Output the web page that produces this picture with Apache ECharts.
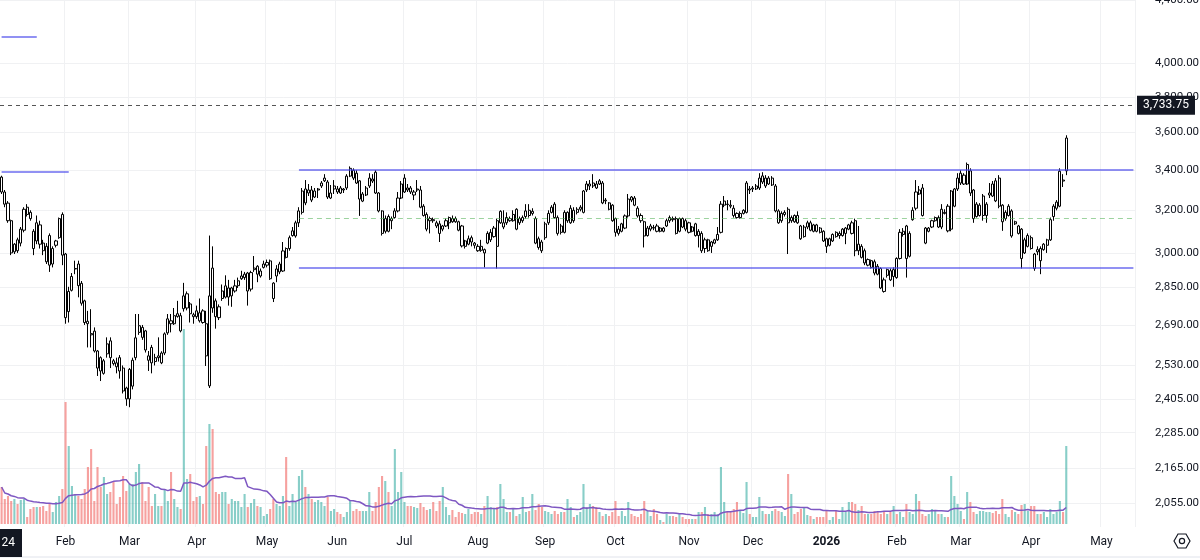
<!DOCTYPE html>
<html>
<head>
<meta charset="utf-8">
<script src="https://cdn.jsdelivr.net/npm/echarts@6/dist/echarts.min.js"></script>
<style>
html, body { margin: 0; padding: 0; background: #fff; }
#chart { width: 1200px; height: 560px; }
</style>
</head>
<body>
<div id="chart"></div>
<script>
// one bar per weekday, first bar on firstDay
var firstDay = '2025-01-06';
var dayCount = 355;   // weekdays on the time scale, incl. empty space on the right

// [open, high, low, close]
var ohlc = [
  [3365,3372,3280,3290],[3290,3300,3215,3230],[3235,3245,3140,3150],[3150,3155,2990,3000],[3005,3045,2995,3040],
  [3060,3070,3000,3010],[3110,3120,3030,3045],[3105,3215,3095,3205],[3215,3230,3170,3180],[3190,3200,3150,3160],
  [3100,3110,2990,3020],[3140,3175,3040,3055],[3130,3150,3020,3040],[3045,3060,2990,3010],[3030,3045,2950,2960],
  [3080,3090,2915,2945],[3020,3030,2935,2950],[3035,3060,3025,3055],[3070,3165,3065,3160],[3180,3190,2945,2990],
  [2995,3000,2695,2720],[2830,2850,2700,2745],[2835,2910,2830,2895],[2930,2965,2905,2928],[2950,2965,2805,2855],
  [2865,2875,2770,2780],[2790,2795,2690,2700],[2705,2748,2600,2695],[2655,2755,2600,2650],[2665,2680,2580,2586],
  [2586,2590,2490,2520],[2560,2565,2471,2509],[2500,2555,2495,2548],[2614,2640,2560,2575],[2626,2640,2520,2560],
  [2548,2555,2530,2537],[2540,2560,2500,2525],[2560,2570,2480,2509],[2520,2530,2425,2434],[2445,2450,2380,2405],
  [2405,2520,2375,2515],[2452,2560,2440,2550],
  [2560,2735,2550,2638],[2660,2735,2650,2687],[2680,2690,2630,2640],[2666,2670,2580,2590],[2550,2586,2509,2567],
  [2600,2610,2500,2540],[2545,2575,2530,2560],[2560,2640,2545,2567],[2578,2585,2535,2540],[2578,2660,2570,2654],
  [2658,2735,2650,2715],[2707,2735,2660,2695],[2695,2760,2690,2728],[2725,2790,2720,2736],[2728,2740,2660,2666],
  [2811,2867,2745,2757],[2820,2830,2750,2760],[2777,2785,2700,2736],[2724,2740,2695,2732],[2748,2770,2715,2724],
  [2707,2800,2700,2740],[2748,2755,2695,2700],[2695,2748,2528,2567],[2453,3080,2445,2811],[2932,3030,2740,2760],
  [2790,2800,2675,2724],[2765,2775,2710,2720],[2800,2860,2790,2832],[2806,2900,2800,2854],[2845,2880,2770,2806],
  [2811,2850,2765,2845],[2832,2880,2825,2854],[2855,2890,2845,2876],[2885,2920,2880,2897],[2890,2915,2880,2905],
  [2910,2915,2770,2832],[2912,2920,2830,2840],[2925,2986,2915,2932],[2940,2945,2870,2905],[2897,2930,2890,2919],
  [2935,2965,2930,2950],[2945,2970,2935,2957],
  [2964,2970,2880,2885],[2866,2870,2785,2800],[2928,2945,2870,2897],[2915,2960,2905,2950],[2919,3050,2915,3009],
  [3020,3025,2975,2980],[3020,3080,3010,3070],[3080,3120,3075,3102],[3078,3150,3070,3140],[3140,3215,3120,3197],
  [3190,3310,3180,3295],[3305,3350,3225,3236],[3285,3330,3270,3300],[3300,3320,3240,3250],[3295,3310,3260,3265],
  [3300,3310,3260,3305],[3320,3345,3310,3335],[3346,3380,3340,3360],[3340,3350,3255,3265],[3260,3325,3255,3285],
  [3320,3350,3280,3305],[3305,3320,3280,3290],[3310,3320,3280,3285],[3300,3310,3285,3305],[3310,3380,3300,3370],
  [3410,3420,3365,3370],[3400,3410,3350,3360],[3385,3400,3330,3335],[3346,3350,3173,3255],[3245,3290,3240,3280],
  [3275,3320,3270,3310],[3320,3385,3310,3360],[3345,3380,3335,3355],[3390,3400,3280,3285],[3285,3290,3190,3197],
  [3197,3200,3080,3090],[3100,3175,3090,3160],[3170,3180,3095,3100],[3150,3170,3110,3160],[3165,3210,3160,3197],
  [3197,3290,3190,3260],[3260,3345,3255,3330],
  [3290,3380,3285,3360],[3300,3330,3290,3310],[3310,3320,3280,3290],[3275,3300,3250,3290],[3300,3350,3290,3305],
  [3300,3320,3210,3215],[3220,3230,3170,3175],[3180,3190,3100,3110],[3150,3170,3090,3160],[3150,3165,3140,3155],
  [3140,3150,3115,3125],[3135,3150,3050,3090],[3110,3130,3100,3125],[3125,3160,3120,3150],[3140,3170,3110,3165],
  [3145,3175,3140,3160],[3160,3170,3140,3145],[3145,3150,3100,3105],[3125,3130,3025,3032],[3030,3060,3020,3055],
  [3040,3080,3035,3065],[3070,3080,3030,3050],[3035,3050,3020,3045],[3030,3040,3005,3010],[3012,3060,3005,3030],
  [3015,3020,2935,3000],[3045,3100,3040,3090],[3060,3110,3050,3095],[3075,3125,3070,3115],[3150,3160,2930,3030],
  [3195,3200,3135,3140],[3120,3200,3110,3140],[3140,3190,3130,3165],[3150,3170,3145,3160],[3150,3200,3145,3180],
  [3205,3210,3105,3110],[3140,3170,3130,3160],[3150,3175,3140,3165],[3170,3230,3160,3197],[3200,3230,3165,3175],
  [3185,3210,3175,3195],[3160,3170,3040,3045],
  [3065,3075,3015,3025],[3050,3060,3000,3010],[3135,3145,3060,3070],[3185,3200,3130,3140],[3190,3225,3185,3215],
  [3230,3240,3160,3165],[3165,3175,3080,3090],[3095,3135,3085,3125],[3190,3200,3090,3095],[3150,3195,3140,3190],
  [3140,3225,3135,3210],[3200,3215,3140,3150],[3190,3215,3180,3205],[3205,3225,3195,3215],[3190,3300,3185,3295],
  [3300,3345,3290,3330],[3320,3350,3300,3330],[3335,3380,3310,3320],[3330,3345,3305,3310],[3346,3355,3325,3330],
  [3335,3345,3230,3236],[3250,3260,3230,3246],[3236,3240,3200,3205],[3225,3230,3145,3150],[3160,3165,3075,3095],
  [3110,3125,3080,3090],[3100,3140,3095,3135],[3115,3180,3110,3173],[3173,3280,3165,3255],[3265,3270,3240,3250],
  [3260,3270,3220,3225],[3210,3220,3165,3173],[3175,3185,3140,3150],[3145,3150,3025,3078],[3080,3125,3075,3115],
  [3110,3135,3100,3125],[3115,3130,3105,3118],[3125,3135,3095,3100],[3100,3120,3095,3115],[3115,3120,3095,3100],
  [3125,3160,3120,3150],[3150,3175,3140,3165],
  [3160,3170,3145,3155],[3160,3170,3085,3090],[3100,3165,3095,3160],[3160,3165,3115,3120],[3150,3160,3100,3110],
  [3140,3145,3090,3095],[3100,3125,3095,3120],[3135,3140,3075,3080],[3100,3110,3025,3080],[3090,3100,3000,3010],
  [3020,3070,3000,3060],[3060,3065,3005,3010],[3030,3055,3000,3050],[3045,3065,3040,3060],[3060,3120,3055,3085],
  [3095,3245,3090,3230],[3225,3270,3215,3245],[3230,3250,3200,3228],[3225,3250,3210,3220],[3210,3225,3165,3175],
  [3185,3190,3160,3165],[3165,3195,3160,3185],[3185,3205,3180,3200],[3190,3345,3185,3335],[3300,3320,3280,3305],
  [3305,3320,3290,3310],[3305,3330,3300,3320],[3310,3385,3300,3360],[3340,3390,3330,3371],[3360,3375,3310,3320],
  [3360,3370,3325,3330],[3325,3370,3320,3360],[3320,3330,3190,3197],[3197,3205,3135,3140],[3150,3195,3140,3185],
  [3180,3200,3170,3190],[3205,3215,2995,3140],[3150,3175,3140,3165],[3175,3180,3140,3145],[3175,3195,3135,3140],
  [3125,3130,3060,3065],[3075,3130,3070,3120],
  [3120,3150,3110,3140],[3140,3150,3100,3105],[3100,3135,3095,3130],[3130,3135,3095,3100],[3115,3120,3090,3095],
  [3100,3105,3050,3055],[3065,3070,3000,3030],[3035,3070,3030,3065],[3055,3090,3050,3085],[3095,3100,3070,3075],
  [3090,3100,3065,3080],[3080,3115,3075,3110],[3090,3120,3040,3115],[3110,3135,3105,3130],[3140,3150,3085,3090],
  [3150,3160,2985,3010],[3040,3125,2990,3010],[3030,3040,2975,2980],[3010,3020,2945,2955],[2945,2975,2940,2970],
  [2965,2970,2930,2935],[2960,2970,2900,2910],[2940,2950,2900,2905],[2930,2935,2840,2845],[2880,2890,2825,2830],
  [2900,2930,2890,2925],[2920,2930,2875,2880],[2925,2935,2850,2895],[2975,2980,2885,2890],[2975,3110,2970,3095],
  [3085,3115,3075,3100],[3125,3130,2890,2975],[3090,3100,2980,2985],[3200,3215,3150,3155],[3210,3350,3200,3290],
  [3300,3320,3275,3280],[3310,3330,3170,3175],[3115,3120,3040,3045],[3100,3120,3095,3115],[3120,3155,3115,3150],
  [3150,3170,3145,3165],[3165,3175,3115,3120],[3205,3230,3110,3120],
  [3190,3205,3180,3185],[3220,3230,3095,3102],[3295,3300,3100,3110],[3305,3310,3215,3220],[3305,3385,3295,3360],
  [3335,3400,3325,3385],[3375,3385,3325,3330],[3330,3440,3325,3430],[3397,3410,3270,3285],[3300,3305,3140,3160],
  [3230,3240,3165,3170],[3225,3235,3170,3175],[3270,3280,3150,3175],[3230,3240,3140,3175],[3275,3335,3260,3285],
  [3330,3345,3265,3270],[3346,3360,3240,3246],[3360,3375,3210,3220],[3225,3230,3102,3145],[3190,3200,3150,3160],
  [3220,3230,3170,3175],[3197,3205,3070,3078],[3135,3150,3130,3145],[3125,3130,3085,3090],[3110,3115,2930,2975],
  [3060,3070,2995,3000],[3080,3090,3025,3030],[3070,3080,3015,3020],[2995,3000,2920,2930],[3005,3030,2990,3015],
  [3020,3030,2905,2965],[3015,3045,3010,3040],[3035,3065,3000,3060],[3060,3165,3055,3155],[3170,3230,3150,3220],
  [3210,3250,3200,3240],[3220,3410,3215,3395],[3345,3380,3315,3350],[3397,3585,3375,3570]
];

var volume = [
  37,25,28,23,25,20,24,25,7,15,17,17,17,18,13,20,12,22,28,35,
  122,78,38,30,28,25,35,57,75,23,57,37,47,30,32,42,20,27,48,33,40,40,
  52,60,42,23,37,18,30,18,18,35,23,52,25,17,15,195,45,50,23,27,28,20,78,100,95,32,30,32,32,20,25,23,23,17,30,17,21,25,18,17,8,10,
  15,25,20,18,28,67,18,30,22,48,54,37,30,25,22,24,22,18,27,13,15,12,10,7,12,23,13,15,13,13,13,32,13,22,37,48,43,32,18,75,32,52,
  22,18,18,17,16,21,17,14,15,22,13,23,37,17,9,14,7,12,11,10,15,10,12,12,10,18,28,17,15,17,40,25,12,12,15,8,10,27,12,13,30,14,
  20,17,13,12,10,13,10,12,12,25,17,7,9,12,40,17,20,18,17,12,8,10,8,12,23,8,13,8,22,10,8,7,10,23,13,8,15,10,4,2,10,8,
  8,7,10,7,5,5,5,5,12,12,17,10,10,12,10,57,22,12,12,15,22,13,11,42,10,7,7,27,13,10,10,13,15,13,12,8,50,30,10,12,15,17,
  9,8,5,7,7,7,14,4,7,13,5,17,12,22,22,20,14,18,10,10,10,13,12,10,13,10,12,18,10,12,7,20,12,10,30,23,10,8,10,15,13,10,10,
  7,7,48,28,20,13,5,32,22,12,10,13,13,12,12,11,13,10,25,10,7,14,12,10,19,20,13,18,18,10,10,12,7,15,10,12,23,12,78
];

var priceTicks = [2055, 2165, 2285, 2405, 2530, 2690, 2850, 3000, 3200, 3400, 3600, 3800, 4000, 4400];
var monthNames = ['Jan', 'Feb', 'Mar', 'Apr', 'May', 'Jun', 'Jul', 'Aug', 'Sep', 'Oct', 'Nov', 'Dec'];

// drawn levels
var channelStart = '2025-05-15';
var channelTop = 3405;
var channelMid = 3162;
var channelBottom = 2934;
var oldLevels = [4162, 3392];
var oldLevelEnds = ['2025-01-21', '2025-02-04'];
var lastPrice = 3733.75;

var priceTop = 4400, priceBottom = 1981;
var maLength = 20;

// weekday calendar for the time scale
var dates = [];
var d = new Date(firstDay + 'T00:00:00Z');
while (dates.length < dayCount) {
    var wd = d.getUTCDay();
    if (wd !== 0 && wd !== 6) dates.push(d.toISOString().slice(0, 10));
    d.setUTCDate(d.getUTCDate() + 1);
}
var monthStart = dates.map(function (v, i) {
    return i > 0 && v.slice(5, 7) !== dates[i - 1].slice(5, 7);
});
var lastDate = dates[dates.length - 1];

function fmt(p) {
    return p.toLocaleString('en-US', { minimumFractionDigits: 2, maximumFractionDigits: 2 });
}

var candleData = ohlc.map(function (r, i) {
    var prevClose = i > 0 ? ohlc[i - 1][3] : r[0];
    var tone = r[3] >= prevClose ? '#7c7c7c' : '#000000';
    return {
        value: [Math.log(r[0]), Math.log(r[3]), Math.log(r[2]), Math.log(r[1])],
        itemStyle: { color: '#ffffff', borderColor: '#000000', color0: tone, borderColor0: tone }
    };
});

var volData = volume.map(function (v, i) {
    var prevClose = i > 0 ? ohlc[i - 1][3] : ohlc[i][0];
    var up = ohlc[i][3] >= prevClose;
    return { value: v, itemStyle: { color: up ? 'rgba(38,166,154,0.55)' : 'rgba(239,83,80,0.55)' } };
});

// simple moving average of volume
var volMa = volume.map(function (v, i) {
    var from = Math.max(0, i - maLength + 1), s = 0;
    for (var k = from; k <= i; k++) s += volume[k];
    return +(s / (i - from + 1)).toFixed(2);
});

var blue = 'rgba(72,72,235,0.8)';
var marks = [
    {
        yAxis: Math.log(lastPrice),
        lineStyle: { color: '#555', type: [4, 4], width: 1 },
        label: {
            show: true, position: 'end', distance: 2,
            formatter: function () { return fmt(lastPrice); },
            backgroundColor: '#131722', color: '#fff', fontSize: 12,
            fontFamily: 'Roboto', padding: [4, 6, 3, 6]
        }
    }
];
[channelTop, channelBottom].forEach(function (p) {
    marks.push([{ coord: [channelStart, Math.log(p)], lineStyle: { color: blue, width: 1.5, type: 'solid' } },
                { coord: [lastDate, Math.log(p)] }]);
});
marks.push([{ coord: [channelStart, Math.log(channelMid)], lineStyle: { color: 'rgba(76,175,80,0.55)', width: 1, type: [5, 4] } },
            { coord: [lastDate, Math.log(channelMid)] }]);
oldLevels.forEach(function (p, k) {
    marks.push([{ coord: [dates[0], Math.log(p)], lineStyle: { color: blue, width: 1.5, type: 'solid' } },
                { coord: [oldLevelEnds[k], Math.log(p)] }]);
});

var chart = echarts.init(document.getElementById('chart'));
chart.setOption({
    animation: false,
    backgroundColor: '#ffffff',
    textStyle: { fontFamily: 'Roboto' },
    grid: [
        { left: 0, right: 65, top: 0, bottom: 33, outerBoundsMode: 'none' },
        { left: 0, right: 65, bottom: 36, height: 200, outerBoundsMode: 'none' }
    ],
    xAxis: [
        {
            type: 'category', data: dates, boundaryGap: true, gridIndex: 0,
            axisLine: { show: false },
            axisTick: { show: false },
            axisLabel: {
                interval: function (i) { return monthStart[i]; },
                formatter: function (v) {
                    var m = +v.slice(5, 7) - 1;
                    return m === 0 ? '{b|' + v.slice(0, 4) + '}' : monthNames[m];
                },
                rich: { b: { fontWeight: 'bold', fontSize: 12, color: '#131722', fontFamily: 'Roboto' } },
                color: '#131722', fontSize: 12, margin: 9
            },
            splitLine: {
                show: true,
                interval: function (i) { return monthStart[i]; },
                lineStyle: { color: '#f0f1f3', width: 1 }
            }
        },
        {
            type: 'category', data: dates, boundaryGap: true, gridIndex: 1,
            axisLine: { show: false }, axisTick: { show: false }, axisLabel: { show: false }, splitLine: { show: false }
        }
    ],
    yAxis: [
        {
            type: 'value', position: 'right', gridIndex: 0,
            min: Math.log(priceBottom), max: Math.log(priceTop),
            axisLine: { show: false },
            axisTick: { show: false, customValues: priceTicks.map(Math.log) },
            axisLabel: {
                customValues: priceTicks.map(Math.log),
                formatter: function (v) {
                    var p = Math.exp(v), best = priceTicks[0];
                    priceTicks.forEach(function (t) { if (Math.abs(t - p) < Math.abs(best - p)) best = t; });
                    return fmt(best);
                },
                color: '#131722', fontSize: 11.5, margin: 20, align: 'left'
            },
            splitLine: { show: true, lineStyle: { color: '#f0f1f3', width: 1 } }
        },
        {
            type: 'value', gridIndex: 1, min: 0, max: 200, show: false,
            splitLine: { show: false }
        }
    ],
    series: [
        {
            type: 'bar', xAxisIndex: 1, yAxisIndex: 1, data: volData,
            barWidth: '66%', z: 1, silent: true
        },
        {
            type: 'line', xAxisIndex: 1, yAxisIndex: 1, data: volMa,
            symbol: 'none', z: 2, silent: true,
            lineStyle: { color: '#7e57c2', width: 1.5 }
        },
        {
            type: 'candlestick', xAxisIndex: 0, yAxisIndex: 0, data: candleData,
            barWidth: '82%', z: 3, silent: true,
            markLine: { symbol: ['none', 'none'], silent: true, animation: false, label: { show: false }, data: marks }
        }
    ],
    graphic: [
        { type: 'line', shape: { x1: 0, y1: 557, x2: 1200, y2: 557 }, style: { stroke: '#e0e3eb', lineWidth: 1 }, silent: true },
        { type: 'rect', shape: { x: 0, y: 529, width: 22, height: 28 }, style: { fill: '#131722' }, silent: true },
        { type: 'text', x: 15, y: 543, style: { text: '24', fill: '#ffffff', font: '12px Roboto', align: 'right', verticalAlign: 'middle' }, silent: true },
        {
            type: 'polygon', silent: true,
            shape: { points: [[1174, 541], [1178, 534], [1186, 534], [1190, 541], [1186, 548], [1178, 548]] },
            style: { fill: 'none', stroke: '#131722', lineWidth: 1.2 }
        },
        { type: 'circle', shape: { cx: 1182, cy: 541, r: 2.6 }, style: { fill: 'none', stroke: '#131722', lineWidth: 1.2 }, silent: true }
    ]
});
</script>
</body>
</html>
